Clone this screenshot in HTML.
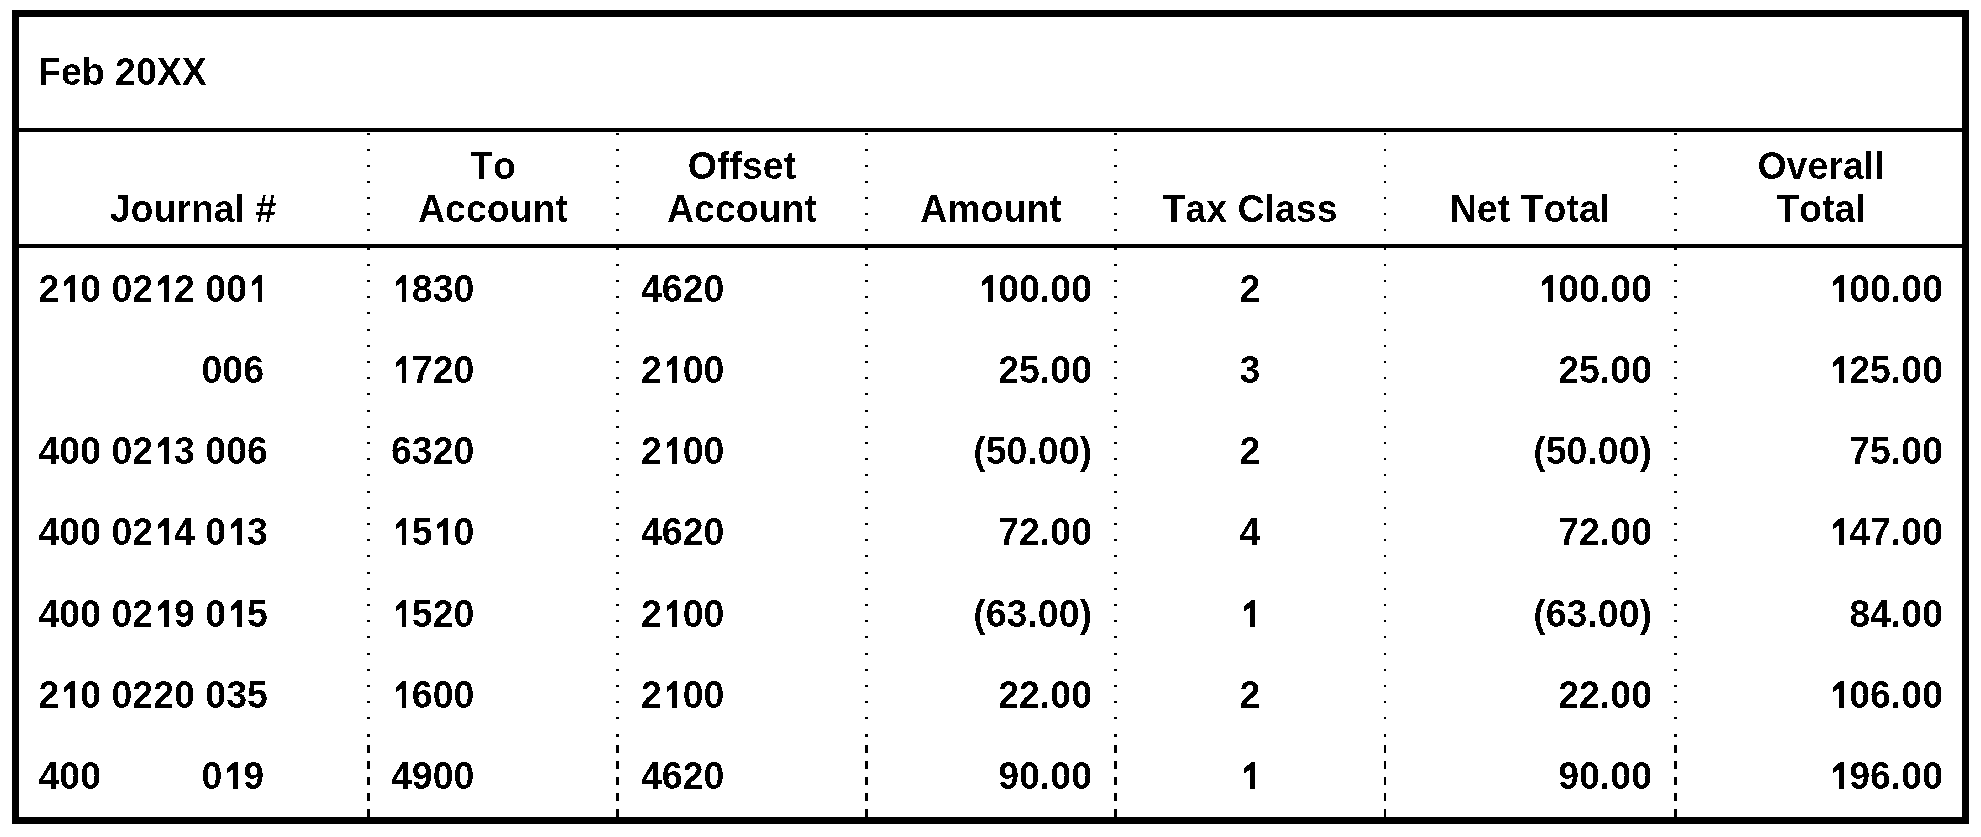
<!DOCTYPE html>
<html><head><meta charset="utf-8"><style>
html,body{margin:0;padding:0;background:#fff;width:1981px;height:837px;overflow:hidden;position:relative}
#pg{position:absolute;left:0;top:0;width:1981px;height:837px;background:#fff;filter:url(#th)}
.box{position:absolute;left:12px;top:10px;width:1957px;height:814px;box-sizing:border-box;border:7px solid #000}
.h{position:absolute;left:12px;width:1957px;height:4px;background:#000}
.t{position:absolute;font-family:"Liberation Sans",sans-serif;font-weight:bold;font-size:37.5px;line-height:1;white-space:pre;color:#000;font-kerning:none;transform:scaleY(1.04);transform-origin:0 30.74px}
.r{text-align:right}
.c{width:400px;text-align:center}
.one{font-style:normal;color:transparent;position:relative}
.one::before{content:"";position:absolute;left:0;width:0.556em;top:0.2127em;height:0.6923em;background:#000;clip-path:polygon(56.59% 0.00%,74.34% 0.00%,74.34% 100.00%,50.36% 100.00%,50.36% 27.78%,28.78% 39.63%,22.06% 39.63%,22.06% 22.96%)}
.dots{position:absolute}
.dash{position:absolute;top:745px;height:72px;background:repeating-linear-gradient(to bottom,#000 0,#000 8px,transparent 8px,transparent 16px)}
</style></head><body>
<svg width="0" height="0" style="position:absolute"><filter id="th" color-interpolation-filters="sRGB"><feColorMatrix type="saturate" values="0"/><feComponentTransfer><feFuncR type="discrete" tableValues="0 0 1 1 1"/><feFuncG type="discrete" tableValues="0 0 1 1 1"/><feFuncB type="discrete" tableValues="0 0 1 1 1"/></feComponentTransfer></filter></svg>
<div id="pg">
<div class="box"></div>
<div class="h" style="top:128px"></div>
<div class="h" style="top:244px"></div>
<div class="dots" style="left:367px;width:3px;top:133px;height:98px;background-size:100% 16px;background-image:linear-gradient(#000 2px,transparent 2px)"></div><div class="dots" style="left:367px;width:3px;top:248px;height:66px;background-size:100% 16px;background-image:linear-gradient(#000 2px,transparent 2px)"></div><div class="dots" style="left:367px;width:3px;top:329px;height:66px;background-size:100% 16px;background-image:linear-gradient(#000 2px,transparent 2px)"></div><div class="dots" style="left:367px;width:3px;top:410px;height:66px;background-size:100% 16px;background-image:linear-gradient(#000 2px,transparent 2px)"></div><div class="dots" style="left:367px;width:3px;top:491px;height:66px;background-size:100% 16px;background-image:linear-gradient(#000 2px,transparent 2px)"></div><div class="dots" style="left:367px;width:3px;top:572px;height:66px;background-size:100% 16px;background-image:linear-gradient(#000 2px,transparent 2px)"></div><div class="dots" style="left:367px;width:3px;top:653px;height:66px;background-size:100% 16px;background-image:linear-gradient(#000 2px,transparent 2px)"></div><div class="dots" style="left:367px;width:3px;top:734px;height:3px;background:#000"></div><div class="dash" style="left:367px;width:3px"></div><div class="dots" style="left:616px;width:3px;top:133px;height:98px;background-size:100% 16px;background-image:linear-gradient(#000 2px,transparent 2px)"></div><div class="dots" style="left:616px;width:3px;top:248px;height:66px;background-size:100% 16px;background-image:linear-gradient(#000 2px,transparent 2px)"></div><div class="dots" style="left:616px;width:3px;top:329px;height:66px;background-size:100% 16px;background-image:linear-gradient(#000 2px,transparent 2px)"></div><div class="dots" style="left:616px;width:3px;top:410px;height:66px;background-size:100% 16px;background-image:linear-gradient(#000 2px,transparent 2px)"></div><div class="dots" style="left:616px;width:3px;top:491px;height:66px;background-size:100% 16px;background-image:linear-gradient(#000 2px,transparent 2px)"></div><div class="dots" style="left:616px;width:3px;top:572px;height:66px;background-size:100% 16px;background-image:linear-gradient(#000 2px,transparent 2px)"></div><div class="dots" style="left:616px;width:3px;top:653px;height:66px;background-size:100% 16px;background-image:linear-gradient(#000 2px,transparent 2px)"></div><div class="dots" style="left:616px;width:3px;top:734px;height:3px;background:#000"></div><div class="dash" style="left:616px;width:3px"></div><div class="dots" style="left:865px;width:3px;top:133px;height:98px;background-size:100% 16px;background-image:linear-gradient(#000 2px,transparent 2px)"></div><div class="dots" style="left:865px;width:3px;top:248px;height:66px;background-size:100% 16px;background-image:linear-gradient(#000 2px,transparent 2px)"></div><div class="dots" style="left:865px;width:3px;top:329px;height:66px;background-size:100% 16px;background-image:linear-gradient(#000 2px,transparent 2px)"></div><div class="dots" style="left:865px;width:3px;top:410px;height:66px;background-size:100% 16px;background-image:linear-gradient(#000 2px,transparent 2px)"></div><div class="dots" style="left:865px;width:3px;top:491px;height:66px;background-size:100% 16px;background-image:linear-gradient(#000 2px,transparent 2px)"></div><div class="dots" style="left:865px;width:3px;top:572px;height:66px;background-size:100% 16px;background-image:linear-gradient(#000 2px,transparent 2px)"></div><div class="dots" style="left:865px;width:3px;top:653px;height:66px;background-size:100% 16px;background-image:linear-gradient(#000 2px,transparent 2px)"></div><div class="dots" style="left:865px;width:3px;top:734px;height:3px;background:#000"></div><div class="dash" style="left:865px;width:3px"></div><div class="dots" style="left:1114px;width:3px;top:133px;height:98px;background-size:100% 16px;background-image:linear-gradient(#000 2px,transparent 2px)"></div><div class="dots" style="left:1114px;width:3px;top:248px;height:66px;background-size:100% 16px;background-image:linear-gradient(#000 2px,transparent 2px)"></div><div class="dots" style="left:1114px;width:3px;top:329px;height:66px;background-size:100% 16px;background-image:linear-gradient(#000 2px,transparent 2px)"></div><div class="dots" style="left:1114px;width:3px;top:410px;height:66px;background-size:100% 16px;background-image:linear-gradient(#000 2px,transparent 2px)"></div><div class="dots" style="left:1114px;width:3px;top:491px;height:66px;background-size:100% 16px;background-image:linear-gradient(#000 2px,transparent 2px)"></div><div class="dots" style="left:1114px;width:3px;top:572px;height:66px;background-size:100% 16px;background-image:linear-gradient(#000 2px,transparent 2px)"></div><div class="dots" style="left:1114px;width:3px;top:653px;height:66px;background-size:100% 16px;background-image:linear-gradient(#000 2px,transparent 2px)"></div><div class="dots" style="left:1114px;width:3px;top:734px;height:3px;background:#000"></div><div class="dash" style="left:1114px;width:3px"></div><div class="dots" style="left:1384px;width:2px;top:133px;height:98px;background-size:100% 16px;background-image:linear-gradient(#000 2px,transparent 2px)"></div><div class="dots" style="left:1384px;width:2px;top:248px;height:66px;background-size:100% 16px;background-image:linear-gradient(#000 2px,transparent 2px)"></div><div class="dots" style="left:1384px;width:2px;top:329px;height:66px;background-size:100% 16px;background-image:linear-gradient(#000 2px,transparent 2px)"></div><div class="dots" style="left:1384px;width:2px;top:410px;height:66px;background-size:100% 16px;background-image:linear-gradient(#000 2px,transparent 2px)"></div><div class="dots" style="left:1384px;width:2px;top:491px;height:66px;background-size:100% 16px;background-image:linear-gradient(#000 2px,transparent 2px)"></div><div class="dots" style="left:1384px;width:2px;top:572px;height:66px;background-size:100% 16px;background-image:linear-gradient(#000 2px,transparent 2px)"></div><div class="dots" style="left:1384px;width:2px;top:653px;height:66px;background-size:100% 16px;background-image:linear-gradient(#000 2px,transparent 2px)"></div><div class="dots" style="left:1384px;width:2px;top:734px;height:3px;background:#000"></div><div class="dash" style="left:1384px;width:2px"></div><div class="dots" style="left:1674px;width:3px;top:133px;height:98px;background-size:100% 16px;background-image:linear-gradient(#000 2px,transparent 2px)"></div><div class="dots" style="left:1674px;width:3px;top:248px;height:66px;background-size:100% 16px;background-image:linear-gradient(#000 2px,transparent 2px)"></div><div class="dots" style="left:1674px;width:3px;top:329px;height:66px;background-size:100% 16px;background-image:linear-gradient(#000 2px,transparent 2px)"></div><div class="dots" style="left:1674px;width:3px;top:410px;height:66px;background-size:100% 16px;background-image:linear-gradient(#000 2px,transparent 2px)"></div><div class="dots" style="left:1674px;width:3px;top:491px;height:66px;background-size:100% 16px;background-image:linear-gradient(#000 2px,transparent 2px)"></div><div class="dots" style="left:1674px;width:3px;top:572px;height:66px;background-size:100% 16px;background-image:linear-gradient(#000 2px,transparent 2px)"></div><div class="dots" style="left:1674px;width:3px;top:653px;height:66px;background-size:100% 16px;background-image:linear-gradient(#000 2px,transparent 2px)"></div><div class="dots" style="left:1674px;width:3px;top:734px;height:3px;background:#000"></div><div class="dash" style="left:1674px;width:3px"></div>
<div class="t" style="left:38px;top:54.26px">Feb 20XX</div><div class="t c" style="left:-7px;top:191.26px">Journal #</div><div class="t c" style="left:293px;top:148.26px">To</div><div class="t c" style="left:293px;top:191.26px">Account</div><div class="t c" style="left:542px;top:148.26px">Offset</div><div class="t c" style="left:542px;top:191.26px">Account</div><div class="t c" style="left:791px;top:191.26px">Amount</div><div class="t c" style="left:1050px;top:191.26px">Tax Class</div><div class="t c" style="left:1330px;top:191.26px">Net Total</div><div class="t c" style="left:1621px;top:148.26px">Overall</div><div class="t c" style="left:1621px;top:191.26px">Total</div><div class="t" style="left:38.5px;top:271.26px">2<i class="one">1</i>0 02<i class="one">1</i>2 00<i class="one">1</i></div><div class="t" style="left:391px;top:271.26px"><i class="one">1</i>830</div><div class="t" style="left:641px;top:271.26px">4620</div><div class="t r" style="right:889px;top:271.26px"><i class="one">1</i>00.00</div><div class="t c" style="left:1050px;top:271.26px">2</div><div class="t r" style="right:329px;top:271.26px"><i class="one">1</i>00.00</div><div class="t r" style="right:38px;top:271.26px"><i class="one">1</i>00.00</div><div class="t r" style="right:1717px;top:352.26px">006</div><div class="t" style="left:391px;top:352.26px"><i class="one">1</i>720</div><div class="t" style="left:641px;top:352.26px">2<i class="one">1</i>00</div><div class="t r" style="right:889px;top:352.26px">25.00</div><div class="t c" style="left:1050px;top:352.26px">3</div><div class="t r" style="right:329px;top:352.26px">25.00</div><div class="t r" style="right:38px;top:352.26px"><i class="one">1</i>25.00</div><div class="t" style="left:38.5px;top:433.26px">400 02<i class="one">1</i>3 006</div><div class="t" style="left:391px;top:433.26px">6320</div><div class="t" style="left:641px;top:433.26px">2<i class="one">1</i>00</div><div class="t r" style="right:889px;top:433.26px">(50.00)</div><div class="t c" style="left:1050px;top:433.26px">2</div><div class="t r" style="right:329px;top:433.26px">(50.00)</div><div class="t r" style="right:38px;top:433.26px">75.00</div><div class="t" style="left:38.5px;top:514.26px">400 02<i class="one">1</i>4 0<i class="one">1</i>3</div><div class="t" style="left:391px;top:514.26px"><i class="one">1</i>5<i class="one">1</i>0</div><div class="t" style="left:641px;top:514.26px">4620</div><div class="t r" style="right:889px;top:514.26px">72.00</div><div class="t c" style="left:1050px;top:514.26px">4</div><div class="t r" style="right:329px;top:514.26px">72.00</div><div class="t r" style="right:38px;top:514.26px"><i class="one">1</i>47.00</div><div class="t" style="left:38.5px;top:596.26px">400 02<i class="one">1</i>9 0<i class="one">1</i>5</div><div class="t" style="left:391px;top:596.26px"><i class="one">1</i>520</div><div class="t" style="left:641px;top:596.26px">2<i class="one">1</i>00</div><div class="t r" style="right:889px;top:596.26px">(63.00)</div><div class="t c" style="left:1050px;top:596.26px"><i class="one">1</i></div><div class="t r" style="right:329px;top:596.26px">(63.00)</div><div class="t r" style="right:38px;top:596.26px">84.00</div><div class="t" style="left:38.5px;top:677.26px">2<i class="one">1</i>0 0220 035</div><div class="t" style="left:391px;top:677.26px"><i class="one">1</i>600</div><div class="t" style="left:641px;top:677.26px">2<i class="one">1</i>00</div><div class="t r" style="right:889px;top:677.26px">22.00</div><div class="t c" style="left:1050px;top:677.26px">2</div><div class="t r" style="right:329px;top:677.26px">22.00</div><div class="t r" style="right:38px;top:677.26px"><i class="one">1</i>06.00</div><div class="t" style="left:38.5px;top:758.26px">400</div><div class="t r" style="right:1717px;top:758.26px">0<i class="one">1</i>9</div><div class="t" style="left:391px;top:758.26px">4900</div><div class="t" style="left:641px;top:758.26px">4620</div><div class="t r" style="right:889px;top:758.26px">90.00</div><div class="t c" style="left:1050px;top:758.26px"><i class="one">1</i></div><div class="t r" style="right:329px;top:758.26px">90.00</div><div class="t r" style="right:38px;top:758.26px"><i class="one">1</i>96.00</div>
</div>
</body></html>
